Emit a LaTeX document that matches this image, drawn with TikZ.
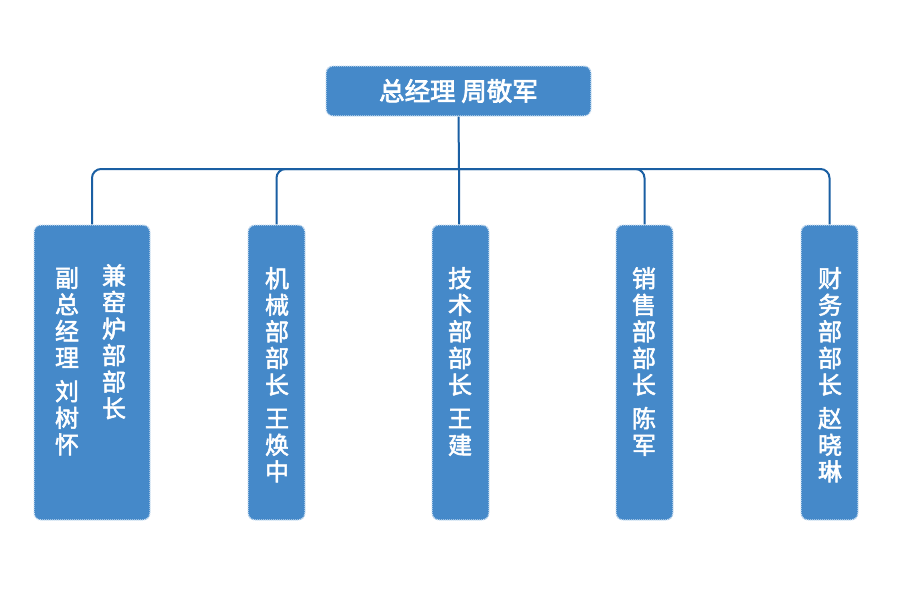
\documentclass[tikz,border=0pt]{standalone}
\usepackage{fontspec}
\setmainfont{Noto Sans CJK SC}
\newfontfamily\medcjk[FakeBold=2.2]{Noto Sans CJK SC}
\newfontfamily\titlecjk[FakeBold=2.8]{Noto Sans CJK SC}
\definecolor{boxblue}{HTML}{4589C9}
\definecolor{boxedge}{HTML}{D3E4F4}
\definecolor{lineblue}{HTML}{1A5FA3}
\begin{document}
\begin{tikzpicture}[x=1pt,y=-1pt,
  box/.style={fill=boxblue, draw=boxedge, line width=1.4pt, dash pattern=on 1pt off 1pt, rounded corners=7pt, inner sep=0pt},
  conn/.style={draw=lineblue, line width=2pt},
  coltext/.style={text=white, align=center, inner sep=0pt, anchor=north, font=\medcjk\fontsize{24}{26.6}\selectfont}]
\useasboundingbox[fill=white] (0,0) rectangle (900,600);
% top
\node[box, minimum width=265pt, minimum height=50pt, text=white, font=\titlecjk\fontsize{25.5}{28}\selectfont] (gm) at (458.5,91) {总经理 周敬军};
% bottom boxes
\node[box, minimum width=116pt, minimum height=295pt] (b1) at (92,372.5) {};
\node[box, minimum width=57pt, minimum height=295pt] (b2) at (276.5,372.5) {};
\node[box, minimum width=57pt, minimum height=295pt] (b3) at (460.5,372.5) {};
\node[box, minimum width=57pt, minimum height=295pt] (b4) at (644.5,372.5) {};
\node[box, minimum width=57pt, minimum height=295pt] (b5) at (829.5,372.5) {};
% texts
\node[coltext] (t1a) at (67,267) {副\\总\\经\\理\\[7pt]刘\\树\\怀};
\node[coltext] (t1b) at (114,264) {兼\\窑\\炉\\部\\部\\长};
\node[coltext] (t2) at (277,267) {机\\械\\部\\部\\长\\[7pt]王\\焕\\中};
\node[coltext] (t3) at (460,267) {技\\术\\部\\部\\长\\[7pt]王\\建};
\node[coltext] (t4) at (644,267) {销\\售\\部\\部\\长\\[7pt]陈\\军};
\node[coltext] (t5) at (830,267) {财\\务\\部\\部\\长\\[7pt]赵\\晓\\琳};
% connectors
\coordinate (bus) at (459,169);
\draw[conn] (gm.south) -- (bus) -- (bus |- b3.north);
\draw[conn, rounded corners=9pt] (bus) -| (b1.north);
\draw[conn, rounded corners=9pt] (bus) -| (b2.north);
\draw[conn, rounded corners=9pt] (bus) -| (b4.north);
\draw[conn, rounded corners=9pt] (bus) -| (b5.north);
\end{tikzpicture}
\end{document}
